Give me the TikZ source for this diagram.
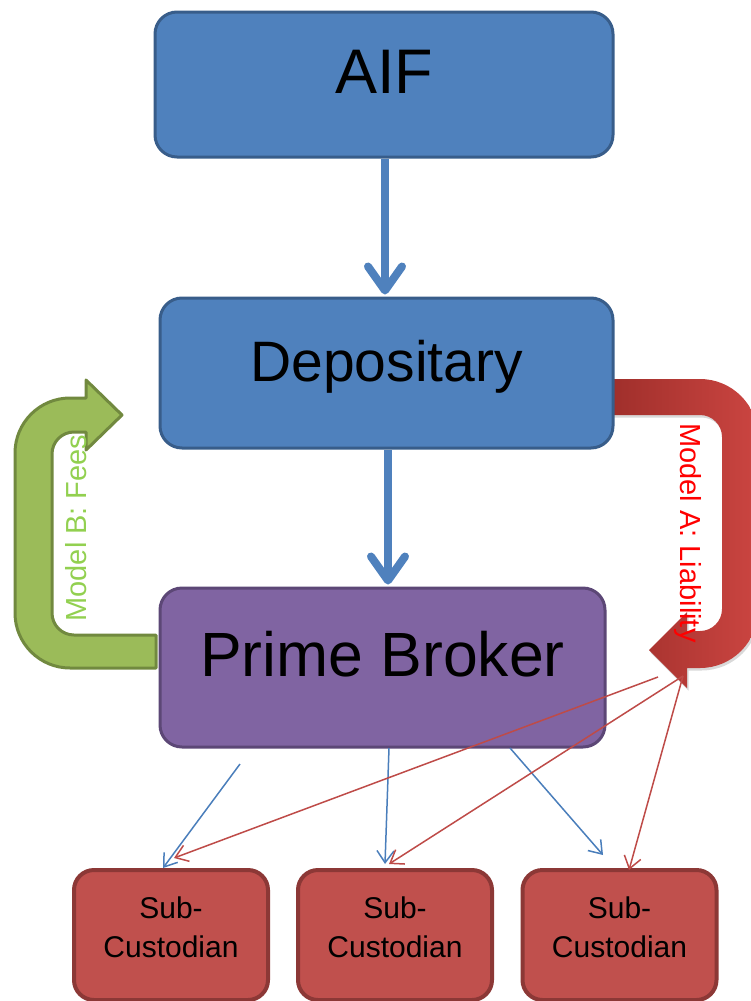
\documentclass[tikz,border=0pt]{standalone}
\usepackage{fontspec}
\setmainfont{Liberation Sans}
\usetikzlibrary{arrows.meta,shadows}
\definecolor{boxblue}{HTML}{4F81BD}
\definecolor{boxblueline}{HTML}{385D8A}
\definecolor{boxpurple}{HTML}{8064A2}
\definecolor{boxpurpleline}{HTML}{5C4776}
\definecolor{boxred}{HTML}{C0504D}
\definecolor{boxredline}{HTML}{8C3836}
\definecolor{arrgreen}{HTML}{9BBB59}
\definecolor{arrgreenline}{HTML}{71893F}
\definecolor{txtgreen}{HTML}{92D050}
\definecolor{txtred}{HTML}{FF0000}
\definecolor{thinblue}{HTML}{4A7EBB}
\definecolor{thinred}{HTML}{BE4B48}
\definecolor{reddark}{HTML}{A02F2B}
\definecolor{redlight}{HTML}{CB4541}
\begin{document}
\begin{tikzpicture}[x=1pt,y=-1pt,
  bigbox/.style={draw, line width=3pt, rounded corners=22pt, inner sep=0pt},
  bluebox/.style={bigbox, fill=boxblue, draw=boxblueline},
  purplebox/.style={bigbox, fill=boxpurple, draw=boxpurpleline},
  subbox/.style={draw=boxredline, fill=boxred, line width=4pt, rounded corners=20pt,
    minimum width=194pt, minimum height=130pt, inner sep=0pt,
    text height=21pt, text depth=55pt},
  bigarrow/.style={draw=boxblue, line width=8pt,
    -{Straight Barb[length=24pt,width=34pt,round]}},
  thinb/.style={draw=thinblue, line width=1.5pt, -{Straight Barb[length=12pt,width=17pt]}},
  thinr/.style={draw=thinred, line width=1.5pt, -{Straight Barb[length=12pt,width=17pt]}},
  sidetext/.style={font=\fontsize{29}{34}\selectfont, inner sep=0pt, anchor=base}
]
\useasboundingbox (0,0) rectangle (750,1001);

% green U-turn arrow (Model B)
\path[fill=arrgreen, draw=arrgreenline, line width=3pt, line join=round]
  (156,635) -- (74,635) arc[start angle=90, end angle=180, radius=22]
  -- (52,454) arc[start angle=180, end angle=270, radius=22]
  -- (86,432) -- (86,450) -- (122,415) -- (86,380) -- (86,398)
  -- (70,398) arc[start angle=270, end angle=180, radius=55]
  -- (15,613) arc[start angle=180, end angle=90, radius=55]
  -- (156,668) -- cycle;

% red U-turn arrow (Model A)
\path[left color=reddark, right color=redlight,
      drop shadow={shadow xshift=1.5pt, shadow yshift=-2.5pt, opacity=0.3}]
  (612,379) -- (700,379) arc[start angle=-90, end angle=0, radius=58]
  -- (758,610) arc[start angle=0, end angle=90, radius=58]
  -- (687,668) -- (687,688) -- (649,650) -- (687,612) -- (687,631)
  -- (700,631) arc[start angle=90, end angle=0, radius=22]
  -- (722,437) arc[start angle=0, end angle=-90, radius=22]
  -- (612,415) -- cycle;

% main boxes
\node[bluebox, minimum width=458pt, minimum height=145pt,
      font=\fontsize{63}{70}\selectfont, text height=45pt, text depth=27pt]
  (aif) at (384,84.5) {AIF};
\node[bluebox, minimum width=453pt, minimum height=150pt,
      font=\fontsize{57}{64}\selectfont, text height=41pt, text depth=25pt]
  (dep) at (386.5,373) {Depositary};
\node[purplebox, minimum width=445pt, minimum height=159pt,
      font=\fontsize{62.5}{70}\selectfont, text height=44.5pt, text depth=27.5pt]
  (pb) at (382.5,667.5) {Prime Broker};

% side labels
\node[sidetext, text=txtgreen, rotate=90] (lblB) at (86,528) {Model B: Fees};
\node[sidetext, text=txtred, rotate=-90] (lblA) at (680,533) {Model A: Liability};

% thick arrows
\draw[bigarrow, shorten >=2pt] (aif.south -| 385,0) -- (dep.north -| 385,0);
\draw[bigarrow, shorten >=2pt] (dep.south -| 388,0) -- (pb.north -| 388,0);

% sub-custodian boxes
\node[subbox, font=\fontsize{30}{39}\selectfont] (s1) at (171,935)
  {\parbox[t]{190pt}{\centering Sub-\\Custodian}};
\node[subbox, font=\fontsize{30}{39}\selectfont] (s2) at (395,935)
  {\parbox[t]{190pt}{\centering Sub-\\Custodian}};
\node[subbox, font=\fontsize{30}{39}\selectfont] (s3) at (619.5,935)
  {\parbox[t]{190pt}{\centering Sub-\\Custodian}};

% thin arrow end points
\coordinate (b1a) at (240,764);
\coordinate (b1b) at (163,868);
\coordinate (b2a) at (389,748);
\coordinate (b2b) at (385,864);
\coordinate (b3a) at (510,748);
\coordinate (b3b) at (603,855);
\coordinate (r1a) at (658,677);
\coordinate (r1b) at (174,858);
\coordinate (rc) at (683,676);
\coordinate (r2b) at (389,864);
\coordinate (r3b) at (629,870);

\draw[thinb] (b1a) -- (b1b);
\draw[thinb] (b2a) -- (b2b);
\draw[thinb] (b3a) -- (b3b);
\draw[thinr] (r1a) -- (r1b);
\draw[thinr] (rc) -- (r2b);
\draw[thinr] (rc) -- (r3b);
\end{tikzpicture}
\end{document}
